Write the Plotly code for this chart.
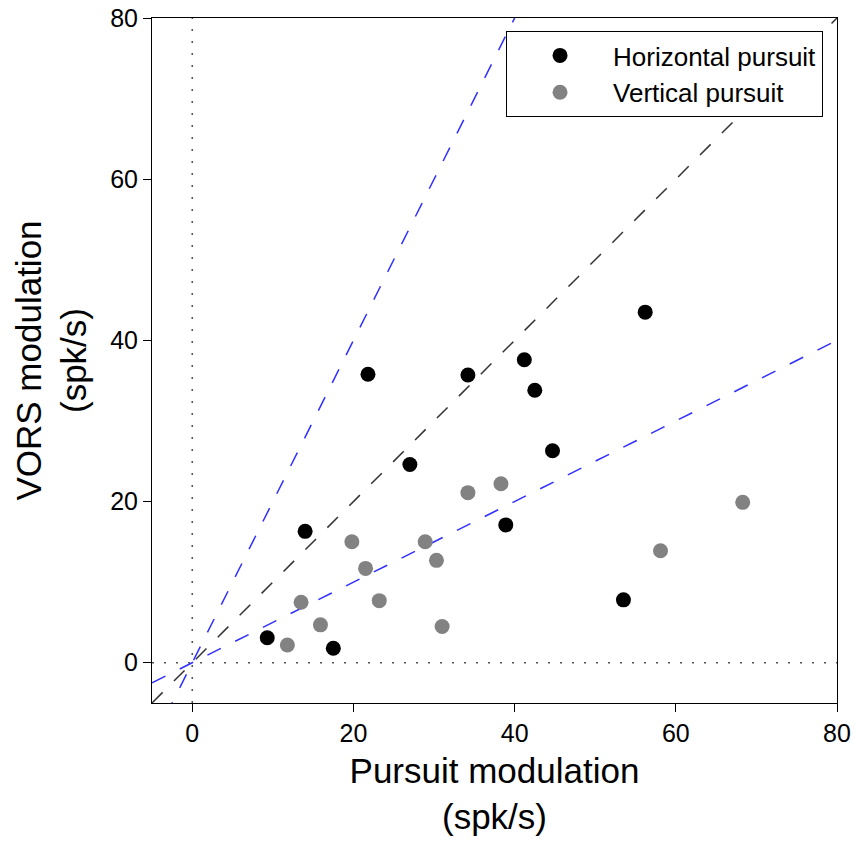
import plotly.graph_objects as go

# Data
horiz_x = [9.3, 14.0, 17.5, 21.8, 27.0, 34.2, 38.9, 41.2, 42.5, 44.7, 53.5, 56.2]
horiz_y = [3.1, 16.3, 1.8, 35.8, 24.6, 35.7, 17.1, 37.6, 33.8, 26.3, 7.8, 43.5]
vert_x = [11.8, 13.5, 15.9, 19.8, 21.5, 23.2, 28.9, 30.3, 31.0, 34.2, 38.3, 58.1, 68.3]
vert_y = [2.2, 7.5, 4.7, 15.0, 11.7, 7.7, 15.0, 12.7, 4.5, 21.1, 22.2, 13.9, 19.9]
ref_slopes = [1.0, 2.0, 0.5]
ref_colors = ["#333333", "#2f2fff", "#2f2fff"]
axis_range = [-5, 80]
tick_vals = [0, 20, 40, 60, 80]

fig = go.Figure()

# zero dotted lines
for xs, ys in [([0, 0], axis_range), (axis_range, [0, 0])]:
    fig.add_trace(go.Scatter(x=xs, y=ys, mode="lines",
                             line=dict(color="#555555", width=1.6, dash="2px,10px"),
                             showlegend=False, hoverinfo="skip"))

# reference lines through origin
for s, c in zip(ref_slopes, ref_colors):
    xs = [axis_range[0], axis_range[1]]
    ys = [s * v for v in xs]
    fig.add_trace(go.Scatter(x=xs, y=ys, mode="lines",
                             line=dict(color=c, width=1.5, dash="15px,16px"),
                             showlegend=False, hoverinfo="skip"))

fig.add_trace(go.Scatter(x=horiz_x, y=horiz_y, mode="markers", name="Horizontal pursuit",
                         marker=dict(color="black", size=15)))
fig.add_trace(go.Scatter(x=vert_x, y=vert_y, mode="markers", name="Vertical pursuit",
                         marker=dict(color="#828282", size=15)))

axis_common = dict(range=axis_range, tickvals=tick_vals, showgrid=False, zeroline=False,
                   showline=True, linecolor="black", linewidth=1, mirror=True,
                   ticks="outside", ticklen=8, tickcolor="black", automargin=False,
                   tickfont=dict(size=25, color="black"))

fig.update_layout(
    width=854, height=844,
    margin=dict(l=152, r=17, t=18, b=141),
    plot_bgcolor="white", paper_bgcolor="white",
    font=dict(family="Liberation Sans, Arial, sans-serif", color="black"),
    xaxis=dict(**axis_common, title=dict(text="Pursuit modulation<br>(spk/s)",
                                         font=dict(size=35), standoff=12)),
    yaxis=dict(**axis_common, title=dict(text="VORS modulation<br>(spk/s)",
                                         font=dict(size=35), standoff=12)),
    legend=dict(x=0.9796, y=0.981, xanchor="right", yanchor="top",
                bgcolor="white", bordercolor="black", borderwidth=1,
                font=dict(size=26, color="black"), itemwidth=96,
                tracegroupgap=0),
)

fig.write_html("out.html")
